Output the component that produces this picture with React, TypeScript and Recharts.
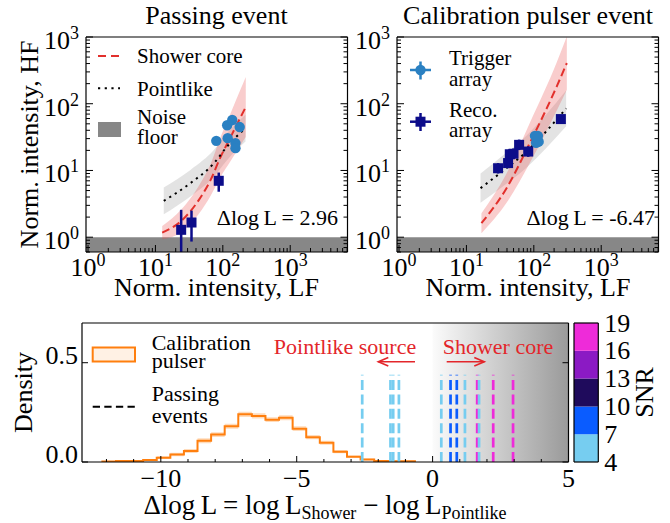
import React from 'react';
import {
  ComposedChart,
  XAxis,
  YAxis,
  Scatter,
  Line,
  Area,
  Bar,
  ReferenceArea,
  ReferenceLine,
  ErrorBar,
} from 'recharts';

const FONT = '"Liberation Serif", "Times New Roman", Times, serif';
const W = 670;
const H = 523;

// ---------------- Top panels: axes ----------------
const LOG_X_DOMAIN = [0.933, 7080];
const LOG_Y_DOMAIN = [0.6, 1000];
const logMajorTicks = [1, 10, 100, 1000];
const logMajorLabels = ['0', '1', '2', '3'];
const logMinorX = [2, 3, 4, 5, 6, 7, 8, 9, 20, 30, 40, 50, 60, 70, 80, 90, 200, 300, 400, 500, 600, 700, 800, 900, 2000, 3000, 4000, 5000, 6000, 7000];
const logMinorY = [0.6, 0.7, 0.8, 0.9, 2, 3, 4, 5, 6, 7, 8, 9, 20, 30, 40, 50, 60, 70, 80, 90, 200, 300, 400, 500, 600, 700, 800, 900];
const noiseFloor = [0.6, 1];

// ---------------- Passing event ----------------
const passTriggerX = [80, 116, 138, 178, 118, 154, 154];
const passTriggerY = [27.8, 47.6, 57, 44.7, 30.5, 25.7, 21.6];
const passRecoX = [87, 24.1, 34.3];
const passRecoY = [7.0, 1.29, 1.66];
const passRecoLow = [4.8, 0.6, 0.86];
const passRecoHigh = [9.3, 2.57, 2.5];
const passShowerX = [12.6, 24, 44.2, 66, 93.3, 132, 186, 219];
const passShowerY = [1.17, 1.74, 3.63, 7.24, 16.2, 32.4, 64.6, 89.1];
const passShowerLow = [0.93, 1.18, 2.24, 4.17, 8.1, 14.1, 24.6, 31.6];
const passShowerHigh = [1.47, 2.57, 5.89, 12.6, 32.3, 74.2, 170, 251];
const passPointX = [13.3, 33.1, 74.1, 116, 217];
const passPointY = [3.5, 6.46, 12.9, 22.9, 43];
const passPointLow = [2.21, 4.08, 8.14, 14.4, 27.1];
const passPointHigh = [5.55, 10.2, 20.4, 36.3, 68.2];

// ---------------- Calibration pulser event ----------------
const calTriggerX = [104, 112, 118, 108, 115];
const calTriggerY = [33, 29, 27, 26, 33];
const calRecoX = [29.5, 41.5, 44, 50, 60.5, 82.6, 252];
const calRecoY = [10.8, 12.9, 17.5, 17.8, 24.2, 19.2, 58.9];
const calRecoLow = [9.0, 10.8, 14.6, 14.8, 20.2, 16.0, 52];
const calRecoHigh = [12.9, 15.5, 21.0, 21.4, 29.0, 23.0, 66];
const calShowerX = [16.7, 39.4, 87.1, 219, 309];
const calShowerY = [1.62, 5.43, 25.7, 182, 407];
const calShowerLow = [1.15, 3.27, 12.9, 79.4, 162];
const calShowerHigh = [2.29, 9.01, 51.3, 417, 1022];
const calPointX = [16.2, 31.6, 77.6, 302];
const calPointY = [5.43, 9.12, 19.1, 85.1];
const calPointLow = [3.27, 5.36, 11.0, 45.8];
const calPointHigh = [9.01, 15.5, 33.2, 158];

// ---------------- Histogram ----------------
const histEdges = [-12.15, -11.65, -11.15, -10.65, -10.15, -9.65, -9.15, -8.65, -8.15, -7.65, -7.15, -6.65, -6.15, -5.65, -5.15, -4.65, -4.15, -3.65, -3.15, -2.65, -2.15, -1.65, -1.15, -0.65];
const histDensity = [0.002, 0.005, 0.005, 0.01, 0.022, 0.038, 0.055, 0.107, 0.138, 0.18, 0.24, 0.232, 0.213, 0.223, 0.168, 0.125, 0.097, 0.052, 0.027, 0.013, 0.005, 0.004, 0.004];
const histErr = [0.003, 0.004, 0.004, 0.005, 0.007, 0.009, 0.01, 0.012, 0.012, 0.013, 0.013, 0.013, 0.012, 0.013, 0.012, 0.011, 0.01, 0.008, 0.006, 0.004, 0.003, 0.003, 0.003];
const passingDeltaLogL = [-2.59, -1.55, -1.45, -1.24, 0.32, 0.66, 0.89, 1.19, 1.64, 1.71, 2.23, 2.96];
const passingSNR = [5, 5, 5, 5, 5, 8, 8, 5, 18, 5, 18, 18];
const passingLineTop = 0.44;
const HIST_X_DOMAIN = [-12.9, 5];
const HIST_Y_DOMAIN = [0, 0.7];
const histXMajor = [-10, -5, 0, 5];
const histXMajorLabels = ['\u221210', '\u22125', '0', '5'];
const histXMinor = [-12, -11, -9, -8, -7, -6, -4, -3, -2, -1, 1, 2, 3, 4];
const histYTicks = [0, 0.5];
const histYLabels = ['0.0', '0.5'];
const showerRegion = [0, 5];

// ---------------- Colorbar ----------------
const snrBounds = [4, 7, 10, 13, 16, 19];
const snrTickLabels = ['4', '7', '10', '13', '16', '19'];
const snrColors = ['#76cdf0', '#0a5cff', '#1f0b5c', '#8b1ac4', '#ee2bd9'];

// ---------------- Styles ----------------
const TRIGGER_COLOR = '#2a80c2';
const RECO_COLOR = '#0c0c8a';
const SHOWER_COLOR = '#e2302c';
const NOISE_COLOR = '#878787';
const ORANGE = '#ff7f0e';
const ANNOT_RED = '#e3262b';
const AXIS_LINE = { stroke: '#000', strokeWidth: 1.2 };
const LABEL_SIZE = 26;
const SUP_SIZE = 18;

type Side = 'bottom' | 'top' | 'left' | 'right';

const findIdx = (arr: number[], v: number) =>
  arr.findIndex((m) => Math.abs(m - v) <= 1e-6 * Math.max(1, Math.abs(m)));

function makeTick(
  side: Side,
  majors: number[],
  lens: [number, number],
  label?: (x: number, y: number, i: number) => React.ReactNode
) {
  return (props: any) => {
    const x = Number(props.x);
    const y = Number(props.y);
    const v = Number(props.payload?.value);
    const i = findIdx(majors, v);
    const len = i >= 0 ? lens[0] : lens[1];
    let x2 = x;
    let y2 = y;
    if (side === 'bottom') y2 = y - len;
    else if (side === 'top') y2 = y + len;
    else if (side === 'left') x2 = x + len;
    else x2 = x - len;
    return (
      <g>
        {len > 0 ? <line x1={x} y1={y} x2={x2} y2={y2} stroke="#000" strokeWidth={1} /> : null}
        {i >= 0 && label ? label(x, y, i) : null}
      </g>
    );
  };
}

const logBottomLabel = (x: number, y: number, i: number) => (
  <text x={x} y={y + 23.5} textAnchor="middle" fontFamily={FONT} fontSize={LABEL_SIZE} fill="#000">
    10<tspan fontSize={SUP_SIZE} dy={-10}>{logMajorLabels[i]}</tspan>
  </text>
);
const logLeftLabel = (x: number, y: number, i: number) => (
  <text x={x - 7} y={y + 12} textAnchor="end" fontFamily={FONT} fontSize={LABEL_SIZE} fill="#000">
    10<tspan fontSize={SUP_SIZE} dy={-10}>{logMajorLabels[i]}</tspan>
  </text>
);
const histBottomLabel = (x: number, y: number, i: number) => (
  <text x={x} y={y + 25} textAnchor="middle" fontFamily={FONT} fontSize={LABEL_SIZE} fill="#000">
    {histXMajorLabels[i]}
  </text>
);
const histLeftLabel = (x: number, y: number, i: number) => (
  <text x={x - 4} y={y + 1} textAnchor="end" fontFamily={FONT} fontSize={LABEL_SIZE} fill="#000">
    {histYLabels[i]}
  </text>
);
const cbarLabel = (x: number, y: number, i: number) => (
  <text x={x + 6} y={y + 8.5} textAnchor="start" fontFamily={FONT} fontSize={LABEL_SIZE} fill="#000">
    {snrTickLabels[i]}
  </text>
);

const circleShape = (p: any) => <circle cx={p.cx} cy={p.cy} r={5.2} fill={TRIGGER_COLOR} />;
const squareShape = (p: any) => (
  <rect x={p.cx - 5} y={p.cy - 5} width={10} height={10} fill={RECO_COLOR} />
);

// plot rectangle -> chart margins (each side has a 1px axis)
const marginsFor = (l: number, t: number, r: number, b: number) => ({
  top: t - 1,
  left: l - 1,
  right: W - r - 1,
  bottom: H - b - 1,
});

const axisCommon = {
  allowDataOverflow: true,
  interval: 0 as const,
  tickSize: 0,
  tickMargin: 0,
  tickLine: false,
  axisLine: AXIS_LINE,
};

interface PanelProps {
  left: number;
  triggerX: number[];
  triggerY: number[];
  recoX: number[];
  recoY: number[];
  recoLow: number[];
  recoHigh: number[];
  showerX: number[];
  showerY: number[];
  showerLow: number[];
  showerHigh: number[];
  pointX: number[];
  pointY: number[];
  pointLow: number[];
  pointHigh: number[];
}

function TopPanel(p: PanelProps) {
  const plotW = 261.5;
  const margin = marginsFor(p.left, 37, p.left + plotW, 252);
  const trigger = p.triggerX.map((x, i) => ({ x, y: p.triggerY[i] }));
  const reco = p.recoX.map((x, i) => ({
    x,
    y: p.recoY[i],
    err: [p.recoY[i] - p.recoLow[i], p.recoHigh[i] - p.recoY[i]],
  }));
  const showerLine = p.showerX.map((x, i) => ({ x, y: p.showerY[i] }));
  const showerBand = p.showerX.map((x, i) => ({ x, band: [p.showerLow[i], p.showerHigh[i]] }));
  const pointLine = p.pointX.map((x, i) => ({ x, y: p.pointY[i] }));
  const pointBand = p.pointX.map((x, i) => ({ x, band: [p.pointLow[i], p.pointHigh[i]] }));
  const xTicks = [...logMajorTicks, ...logMinorX];
  const yTicks = [...logMajorTicks, ...logMinorY];
  return (
    <div style={{ position: 'absolute', left: 0, top: 0 }}>
      <ComposedChart width={W} height={H} margin={margin}>
        <ReferenceArea
          x1={LOG_X_DOMAIN[0]}
          x2={LOG_X_DOMAIN[1]}
          y1={noiseFloor[0]}
          y2={noiseFloor[1]}
          fill={NOISE_COLOR}
          fillOpacity={1}
          stroke="none"
          ifOverflow="visible"
        />
        <Area data={pointBand} dataKey="band" type="monotone" fill="#9a9a9a" fillOpacity={0.28} stroke="none" isAnimationActive={false} />
        <Area data={showerBand} dataKey="band" type="monotone" fill="#ea4a4a" fillOpacity={0.28} stroke="none" isAnimationActive={false} />
        <Line data={showerLine} dataKey="y" type="monotone" stroke={SHOWER_COLOR} strokeWidth={2} strokeDasharray="8 4" dot={false} isAnimationActive={false} />
        <Line data={pointLine} dataKey="y" type="monotone" stroke="#000" strokeWidth={2} strokeDasharray="2.2 4.3" dot={false} isAnimationActive={false} />
        <Scatter data={trigger} shape={circleShape} isAnimationActive={false} />
        <Scatter data={reco} shape={squareShape} isAnimationActive={false}>
          <ErrorBar dataKey="err" direction="y" width={0} stroke={RECO_COLOR} strokeWidth={2.5} isAnimationActive={false} />
        </Scatter>
        <XAxis
          {...axisCommon}
          dataKey="x"
          type="number"
          scale="log"
          domain={LOG_X_DOMAIN}
          ticks={xTicks}
          height={1}
          tick={makeTick('bottom', logMajorTicks, [7, 4], logBottomLabel)}
        />
        <XAxis
          {...axisCommon}
          xAxisId="t"
          orientation="top"
          type="number"
          scale="log"
          domain={LOG_X_DOMAIN}
          ticks={xTicks}
          height={1}
          tick={makeTick('top', logMajorTicks, [7, 4])}
        />
        <YAxis
          {...axisCommon}
          dataKey="y"
          type="number"
          scale="log"
          domain={LOG_Y_DOMAIN}
          ticks={yTicks}
          width={1}
          tick={makeTick('left', logMajorTicks, [7, 4], logLeftLabel)}
        />
        <YAxis
          {...axisCommon}
          yAxisId="r"
          orientation="right"
          type="number"
          scale="log"
          domain={LOG_Y_DOMAIN}
          ticks={yTicks}
          width={1}
          tick={makeTick('right', logMajorTicks, [7, 4])}
        />
      </ComposedChart>
    </div>
  );
}

function snrColor(s: number) {
  for (let i = 0; i < snrColors.length; i++) {
    if (s >= snrBounds[i] && s < snrBounds[i + 1]) return snrColors[i];
  }
  return snrColors[snrColors.length - 1];
}

function Histogram() {
  const margin = marginsFor(82, 323, 568.5, 462);
  const lineData = [
    { x: histEdges[0], y: 0 },
    ...histDensity.map((d, i) => ({ x: histEdges[i], y: d })),
    { x: histEdges[histEdges.length - 1], y: histDensity[histDensity.length - 1] },
    { x: histEdges[histEdges.length - 1], y: 0 },
  ];
  const bandData = [
    ...histDensity.map((d, i) => ({ x: histEdges[i], band: [Math.max(0, d - histErr[i]), d + histErr[i]] })),
    {
      x: histEdges[histEdges.length - 1],
      band: [
        Math.max(0, histDensity[histDensity.length - 1] - histErr[histErr.length - 1]),
        histDensity[histDensity.length - 1] + histErr[histErr.length - 1],
      ],
    },
  ];
  const xTicks = [...histXMajor, ...histXMinor];
  return (
    <div style={{ position: 'absolute', left: 0, top: 0 }}>
      <ComposedChart width={W} height={H} margin={margin}>
        <ReferenceArea
          x1={showerRegion[0]}
          x2={showerRegion[1]}
          y1={HIST_Y_DOMAIN[0]}
          y2={HIST_Y_DOMAIN[1]}
          fill="url(#showerGrad)"
          fillOpacity={1}
          stroke="none"
          ifOverflow="visible"
        />
        <Area data={bandData} dataKey="band" type="stepAfter" fill="#ff9a40" fillOpacity={0.35} stroke="none" isAnimationActive={false} />
        <Line data={lineData} dataKey="y" type="stepAfter" stroke={ORANGE} strokeWidth={2} dot={false} isAnimationActive={false} />
        {passingDeltaLogL.map((v, i) => (
          <ReferenceLine
            key={i}
            segment={[
              { x: v, y: 0 },
              { x: v, y: passingLineTop },
            ]}
            stroke={snrColor(passingSNR[i])}
            strokeWidth={2.7}
            strokeDasharray="10 4.4"
          />
        ))}
        <XAxis
          {...axisCommon}
          dataKey="x"
          type="number"
          domain={HIST_X_DOMAIN}
          ticks={xTicks}
          height={1}
          tick={makeTick('bottom', histXMajor, [6, 3], histBottomLabel)}
        />
        <XAxis
          {...axisCommon}
          xAxisId="t"
          orientation="top"
          type="number"
          domain={HIST_X_DOMAIN}
          ticks={xTicks}
          height={1}
          tick={makeTick('top', histXMajor, [6, 3])}
        />
        <YAxis
          {...axisCommon}
          dataKey="y"
          type="number"
          domain={HIST_Y_DOMAIN}
          ticks={histYTicks}
          width={1}
          tick={makeTick('left', histYTicks, [6, 3], histLeftLabel)}
        />
        <YAxis
          {...axisCommon}
          yAxisId="r"
          orientation="right"
          type="number"
          domain={HIST_Y_DOMAIN}
          ticks={histYTicks}
          width={1}
          tick={makeTick('right', histYTicks, [6, 3])}
        />
      </ComposedChart>
    </div>
  );
}

function Colorbar() {
  const margin = marginsFor(574, 323, 598.3, 462);
  const row: Record<string, number | string> = { name: 'SNR', base: snrBounds[0] };
  snrColors.forEach((_, i) => {
    row['s' + i] = snrBounds[i + 1] - snrBounds[i];
  });
  const domain = [snrBounds[0], snrBounds[snrBounds.length - 1]];
  return (
    <div style={{ position: 'absolute', left: 0, top: 0 }}>
      <ComposedChart width={W} height={H} margin={margin} data={[row]} barCategoryGap={0} barGap={0}>
        <Bar dataKey="base" stackId="c" fill="none" isAnimationActive={false} />
        {snrColors.map((c, i) => (
          <Bar key={i} dataKey={'s' + i} stackId="c" fill={c} isAnimationActive={false} />
        ))}
        <XAxis dataKey="name" type="category" height={1} tick={false} tickLine={false} axisLine={AXIS_LINE} />
        <XAxis xAxisId="t" orientation="top" dataKey="name" type="category" height={1} tick={false} tickLine={false} axisLine={AXIS_LINE} />
        <YAxis type="number" domain={domain} allowDataOverflow width={1} tick={false} tickLine={false} axisLine={AXIS_LINE} />
        <YAxis
          {...axisCommon}
          yAxisId="r"
          orientation="right"
          type="number"
          domain={domain}
          ticks={snrBounds}
          width={1}
          tick={makeTick('right', snrBounds, [0, 0], cbarLabel)}
        />
      </ComposedChart>
    </div>
  );
}

function Overlay() {
  const t = { fontFamily: FONT, fill: '#000' } as const;
  return (
    <svg width={W} height={H} style={{ position: 'absolute', left: 0, top: 0, pointerEvents: 'none' }}>
      {/* Titles and labels (top) */}
      <text x={216.5} y={24} textAnchor="middle" fontSize={26} {...t}>Passing event</text>
      <text x={528} y={24} textAnchor="middle" fontSize={26} {...t}>Calibration pulser event</text>
      <text transform="translate(38,144.5) rotate(-90)" textAnchor="middle" fontSize={26} {...t}>Norm. intensity, HF</text>
      <text x={216.5} y={296} textAnchor="middle" fontSize={26} {...t}>Norm. intensity, LF</text>
      <text x={528} y={296} textAnchor="middle" fontSize={26} {...t}>Norm. intensity, LF</text>

      {/* Left legend */}
      <line x1={98} y1={56} x2={120} y2={56} stroke={SHOWER_COLOR} strokeWidth={2} strokeDasharray="8 5" />
      <text x={137} y={62.5} fontSize={21} {...t}>Shower core</text>
      <line x1={98} y1={88.3} x2={120} y2={88.3} stroke="#000" strokeWidth={2} strokeDasharray="2.2 4.5" />
      <text x={137} y={95.5} fontSize={21} {...t}>Pointlike</text>
      <rect x={98} y={122} width={23} height={15} fill={NOISE_COLOR} />
      <text fontSize={21} {...t}>
        <tspan x={137} y={124}>Noise</tspan>
        <tspan x={137} y={144}>floor</tspan>
      </text>

      {/* Right legend */}
      <line x1={410} y1={70} x2={431} y2={70} stroke={TRIGGER_COLOR} strokeWidth={2.5} />
      <line x1={420.5} y1={61.5} x2={420.5} y2={79.5} stroke={TRIGGER_COLOR} strokeWidth={2.5} />
      <circle cx={420.5} cy={70} r={5.2} fill={TRIGGER_COLOR} />
      <text fontSize={21} {...t}>
        <tspan x={449} y={65}>Trigger</tspan>
        <tspan x={449} y={85.5}>array</tspan>
      </text>
      <line x1={410} y1={121.7} x2={431} y2={121.7} stroke={RECO_COLOR} strokeWidth={2.5} />
      <line x1={420.5} y1={113} x2={420.5} y2={131} stroke={RECO_COLOR} strokeWidth={2.5} />
      <rect x={415.5} y={116.7} width={10} height={10} fill={RECO_COLOR} />
      <text fontSize={21} {...t}>
        <tspan x={449} y={117}>Reco.</tspan>
        <tspan x={449} y={137}>array</tspan>
      </text>

      {/* Delta log L annotations */}
      <text x={338} y={224.5} textAnchor="end" fontSize={22} {...t}>
        Δlog{'\u2009'}L = 2.96
      </text>
      <text x={655} y={224.5} textAnchor="end" fontSize={22} {...t}>
        Δlog{'\u2009'}L = -6.47
      </text>

      {/* Histogram legend */}
      <rect x={92.7} y={347.5} width={42.3} height={14} fill="#fff1e4" stroke={ORANGE} strokeWidth={2} />
      <text fontSize={22} {...t}>
        <tspan x={151.7} y={350}>Calibration</tspan>
        <tspan x={151.7} y={368}>pulser</tspan>
      </text>
      <line x1={92.7} y1={406.7} x2={135} y2={406.7} stroke="#000" strokeWidth={2} strokeDasharray="7.3 4.3" />
      <text fontSize={22} {...t}>
        <tspan x={151.7} y={401}>Passing</tspan>
        <tspan x={151.7} y={423}>events</tspan>
      </text>

      {/* Histogram annotations */}
      <text x={345} y={354} textAnchor="middle" fontSize={22} fontFamily={FONT} fill={ANNOT_RED}>Pointlike source</text>
      <text x={498} y={354} textAnchor="middle" fontSize={22} fontFamily={FONT} fill={ANNOT_RED}>Shower core</text>
      <g stroke={ANNOT_RED} strokeWidth={1.6} fill="none">
        <line x1={415} y1={361.7} x2={378.3} y2={361.7} />
        <polyline points="388.3,357.4 378.3,361.7 388.3,366" />
        <line x1={446.7} y1={361.7} x2={484.3} y2={361.7} />
        <polyline points="474.3,357.4 484.3,361.7 474.3,366" />
      </g>

      {/* Histogram axis labels */}
      <text transform="translate(32,392.5) rotate(-90)" textAnchor="middle" fontSize={26} {...t}>Density</text>
      <text x={325} y={514} textAnchor="middle" fontSize={27} {...t}>
        Δlog{'\u2009'}L = log{'\u2009'}L
        <tspan fontSize={18} dy={5}>Shower</tspan>
        <tspan dy={-5}> − log{'\u2009'}L</tspan>
        <tspan fontSize={18} dy={5}>Pointlike</tspan>
      </text>

      {/* Colorbar label */}
      <text transform="translate(653,392.5) rotate(-90)" textAnchor="middle" fontSize={26} {...t}>SNR</text>
    </svg>
  );
}

export default function App() {
  return (
    <div style={{ position: 'absolute', left: 0, top: 0, width: W, height: H, background: '#fff', overflow: 'hidden' }}>
      <svg width={0} height={0} style={{ position: 'absolute' }}>
        <defs>
          <linearGradient id="showerGrad" x1="0" y1="0" x2="1" y2="0">
            <stop offset="0" stopColor="#fbfbfb" />
            <stop offset="1" stopColor="#9a9a9a" />
          </linearGradient>
        </defs>
      </svg>
      <TopPanel
        left={86}
        triggerX={passTriggerX}
        triggerY={passTriggerY}
        recoX={passRecoX}
        recoY={passRecoY}
        recoLow={passRecoLow}
        recoHigh={passRecoHigh}
        showerX={passShowerX}
        showerY={passShowerY}
        showerLow={passShowerLow}
        showerHigh={passShowerHigh}
        pointX={passPointX}
        pointY={passPointY}
        pointLow={passPointLow}
        pointHigh={passPointHigh}
      />
      <TopPanel
        left={397}
        triggerX={calTriggerX}
        triggerY={calTriggerY}
        recoX={calRecoX}
        recoY={calRecoY}
        recoLow={calRecoLow}
        recoHigh={calRecoHigh}
        showerX={calShowerX}
        showerY={calShowerY}
        showerLow={calShowerLow}
        showerHigh={calShowerHigh}
        pointX={calPointX}
        pointY={calPointY}
        pointLow={calPointLow}
        pointHigh={calPointHigh}
      />
      <Histogram />
      <Colorbar />
      <Overlay />
    </div>
  );
}
